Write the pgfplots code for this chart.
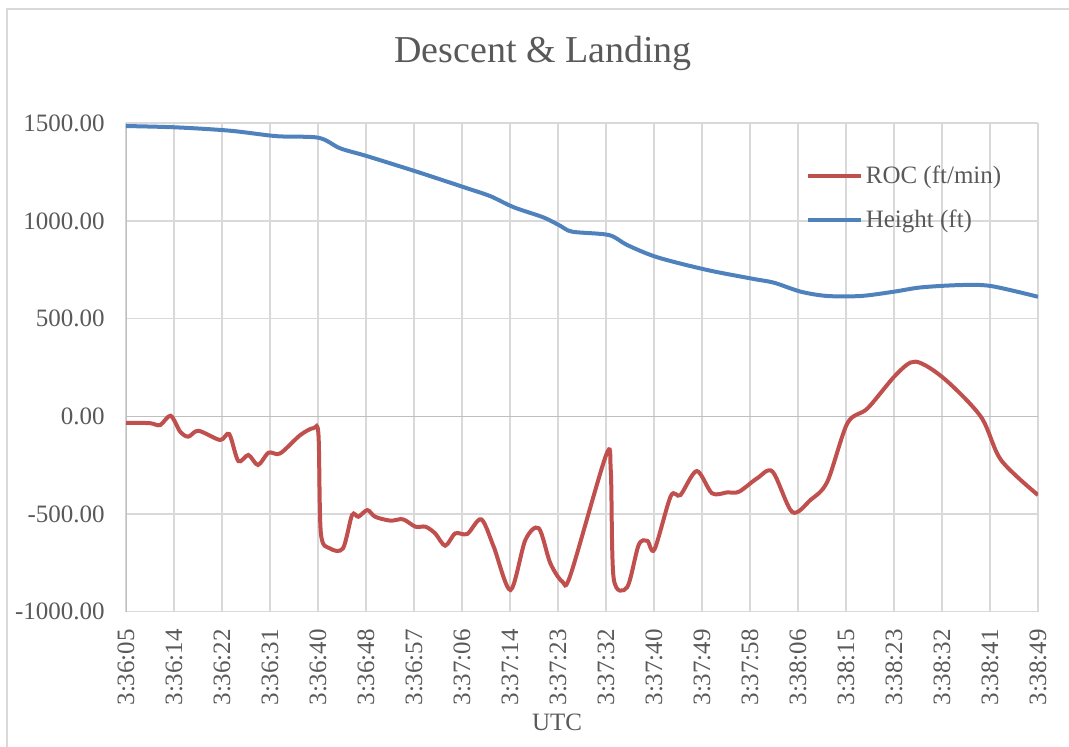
\documentclass[border=0pt]{standalone}
\usepackage{fontspec}
\setmainfont{Liberation Serif}
\usepackage{pgfplots}
\pgfplotsset{compat=1.18}
\definecolor{roc}{HTML}{C0504D}
\definecolor{hgt}{HTML}{4F81BD}
\definecolor{txt}{HTML}{595959}
\definecolor{grd}{HTML}{D9D9D9}
\definecolor{axl}{HTML}{BFBFBF}
\begin{document}
\begin{tikzpicture}
\useasboundingbox (-63pt,-67.65pt) rectangle (471.5pt,305.85pt);
\draw[grd, line width=0.8pt] (-59.5pt,-70pt) -- (-59.5pt,301.35pt) -- (480pt,301.35pt);
\begin{axis}[
  at={(0,0)}, anchor=south west,
  scale only axis, width=456pt, height=244.2pt,
  xmin=0, xmax=19, ymin=-1000, ymax=1500,
  xtick={0,...,19},
  xticklabels={3:36:05,3:36:14,3:36:22,3:36:31,3:36:40,3:36:48,3:36:57,3:37:06,3:37:14,3:37:23,3:37:32,3:37:40,3:37:49,3:37:58,3:38:06,3:38:15,3:38:23,3:38:32,3:38:41,3:38:49},
  ytick={-1000,-500,0,500,1000,1500},
  yticklabels={-1000.00,-500.00,0.00,500.00,1000.00,1500.00},
  major tick length=0pt,
  grid=major, grid style={grd, line width=0.8pt},
  axis line style={draw=none},
  tick label style={font=\fontsize{12.5}{14}\selectfont, text=txt},
  xticklabel style={rotate=90, anchor=east, inner sep=0pt},
  xticklabel shift=8.5pt,
  yticklabel style={anchor=east, inner sep=0pt},
  yticklabel shift=10.5pt,
  legend style={draw=none, fill=none, at={(0.745,0.847)}, anchor=west,
    font=\fontsize{12.5}{14}\selectfont, text=txt, row sep=8.5pt, inner sep=0pt,
    nodes={inner sep=1.5pt}},
  legend cell align=left,
  legend image code/.code={\draw[#1, line width=2pt] (0pt,0pt) -- (26.5pt,0pt);},
]
\draw[axl, line width=0.8pt] (axis cs:0,0) -- (axis cs:19,0);
\draw[axl, line width=0.8pt] (axis cs:0,-1000) -- (axis cs:0,1500);
\addplot[roc, line width=2pt, smooth, tension=0.5] coordinates {
(0,-33) (0.5,-35) (0.71,-45) (0.93,3) (1.13,-79) (1.30,-104) (1.51,-74)
(1.96,-121) (2.15,-91) (2.34,-229) (2.55,-198) (2.75,-249) (2.97,-186)
(3.21,-190) (3.63,-96) (3.91,-60) (4.01,-95) (4.06,-599) (4.25,-676)
(4.52,-676) (4.71,-505) (4.84,-514) (5.03,-480) (5.19,-514) (5.51,-534)
(5.77,-527) (6.03,-565) (6.24,-565) (6.44,-599) (6.65,-662) (6.86,-599)
(7.11,-602) (7.40,-527) (7.66,-667) (8.01,-889) (8.32,-633) (8.60,-573)
(8.84,-752) (9.09,-846) (9.26,-812) (10.0,-200) (10.1,-280) (10.16,-830)
(10.44,-875) (10.68,-659) (10.86,-637) (11.01,-681) (11.35,-408) (11.55,-403)
(11.89,-280) (12.21,-394) (12.53,-389) (12.77,-386) (13.15,-317) (13.47,-283)
(13.88,-490) (14.26,-428) (14.61,-335) (15.03,-35) (15.45,41) (16.05,215)
(16.45,280) (17.04,194) (17.81,-2) (18.23,-224) (19,-403)
};
\addlegendentry{ROC (ft/min)}
\addplot[hgt, line width=2pt, smooth, tension=0.5] coordinates {
(0,1486) (1.06,1479) (2.17,1462) (3.14,1434) (4.01,1426) (4.46,1372)
(5.02,1332) (6.06,1252) (7.11,1167) (7.59,1127) (8.08,1070) (8.70,1018)
(9.05,975) (9.30,945) (10.06,928) (10.44,877) (11.07,814) (12.11,749)
(13.08,703) (13.50,684) (14.06,638) (14.61,616) (15.31,616) (16.00,638)
(16.56,660) (17.39,672) (18.02,667) (19,612)
};
\addlegendentry{Height (ft)}
\end{axis}
\node[text=txt, font=\fontsize{19}{22}\selectfont] at (208.5pt,279.35pt) {Descent \& Landing};
\node[text=txt, font=\fontsize{12.5}{14}\selectfont] at (215.5pt,-55.15pt) {UTC};
\end{tikzpicture}
\end{document}
